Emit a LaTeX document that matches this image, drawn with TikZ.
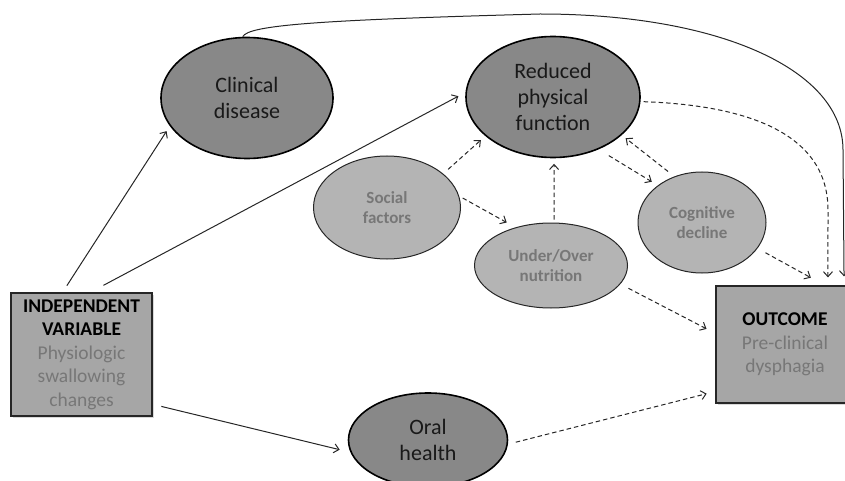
\documentclass[tikz,border=0pt]{standalone}
\usepackage{fontspec}
\setmainfont{Carlito}
\usetikzlibrary{shapes.geometric,arrows.meta,shadows}
\definecolor{grisfonce}{HTML}{888888}
\definecolor{grisclair}{HTML}{B4B4B4}
\definecolor{griscadre}{HTML}{A6A6A6}
\definecolor{gristexte}{HTML}{777777}
\tikzstyle{fonce} = [ellipse, draw=black, line width=1.6pt, fill=grisfonce, inner sep=0pt, align=center, text=black!90, font=\fontsize{22}{26}\selectfont]
\tikzstyle{clair} = [ellipse, draw=black!85, line width=1pt, fill=grisclair, inner sep=0pt, align=center, text=gristexte, font=\fontsize{17}{20.5}\selectfont\bfseries]
\tikzstyle{cadre} = [rectangle, draw=black!85, line width=1.2pt, fill=griscadre, inner sep=0pt, align=center, text=gristexte, font=\fontsize{19.5}{23.5}\selectfont, drop shadow={shadow xshift=1.5pt, shadow yshift=-1.5pt, opacity=0.3}]
\tikzstyle{fleche} = [-{Straight Barb[length=5pt,width=9pt]}, line width=1pt, draw=black!85]
\tikzstyle{pointille} = [fleche, dash pattern=on 4.5pt off 3pt]

\begin{document}
\begin{tikzpicture}[x=1pt,y=-1pt]
                \useasboundingbox (0,0) rectangle (845,481);
                \clip (0,0) rectangle (845,481);

                \node [fonce, minimum width=172pt, minimum height=121pt] (clinique) at (247,98) {Clinical\\disease};
                \node [fonce, minimum width=174pt, minimum height=121pt] (reduite) at (553,97) {Reduced\\physical\\function};
                \node [clair, minimum width=147pt, minimum height=103pt] (sociaux) at (387,207.5) {Social\\factors};
                \node [clair, minimum width=153pt, minimum height=85pt] (nutrition) at (551,265.5) {Under/Over\\nutrition};
                \node [clair, minimum width=128pt, minimum height=101pt] (cognitif) at (702,222.5) {Cognitive\\decline};
                \node [fonce, minimum width=159pt, minimum height=94pt] (orale) at (428,440) {Oral\\health};

                \node [cadre, minimum width=141pt, minimum height=123pt] (independant) at (81.5,354.5) {\textcolor{black}{\textbf{INDEPENDENT}}\\\textcolor{black}{\textbf{VARIABLE}}\\Physiologic\\swallowing\\changes};
                \node [cadre, minimum width=138pt, minimum height=117pt] (resultat) at (785,344.5) {\textcolor{black}{\textbf{OUTCOME}}\\Pre-clinical\\dysphagia};

                \draw [fleche, shorten <=8pt, shorten >=6pt] (independant.107) -- (clinique.200);
                \draw [fleche, shorten <=15pt, shorten >=8pt] (independant.82) -- (reduite.177);
                \draw [fleche, shorten <=9pt, shorten >=11pt] (independant.-35) -- (orale.189);
                \draw [fleche, shorten >=9pt] (clinique.94) .. controls (248,25) and (320,20) .. (540,14) .. controls (720,14) and (843,70) .. (843,150) -- (resultat.45);

                \draw [pointille, shorten <=8pt, shorten >=9pt] (orale.-3) -- (resultat.214);
                \draw [pointille, shorten <=9pt, shorten >=10pt] (nutrition.-15) -- (resultat.171);
                \draw [pointille, shorten <=9pt, shorten >=16pt] (cognitif.-25) -- (resultat.56);
                \draw [pointille, shorten <=3pt, shorten >=8pt] (reduite.-3) .. controls (740,105) and (828,130) .. (828,210) -- (resultat.54);
                \draw [pointille, shorten <=6.5pt, shorten >=6pt] (sociaux.31) -- (reduite.210);
                \draw [pointille, shorten <=4pt, shorten >=10pt] (sociaux.9) -- (nutrition.133);
                \draw [pointille, shorten <=3pt, shorten >=5.5pt] (nutrition.86) -- (reduite.-89);
                \draw [pointille, shorten <=12pt, shorten >=7pt] (reduite.-49) -- (cognitif.140);
                \draw [pointille, shorten <=8pt, shorten >=5pt] (cognitif.121) -- (reduite.-29);
\end{tikzpicture}
\end{document}
